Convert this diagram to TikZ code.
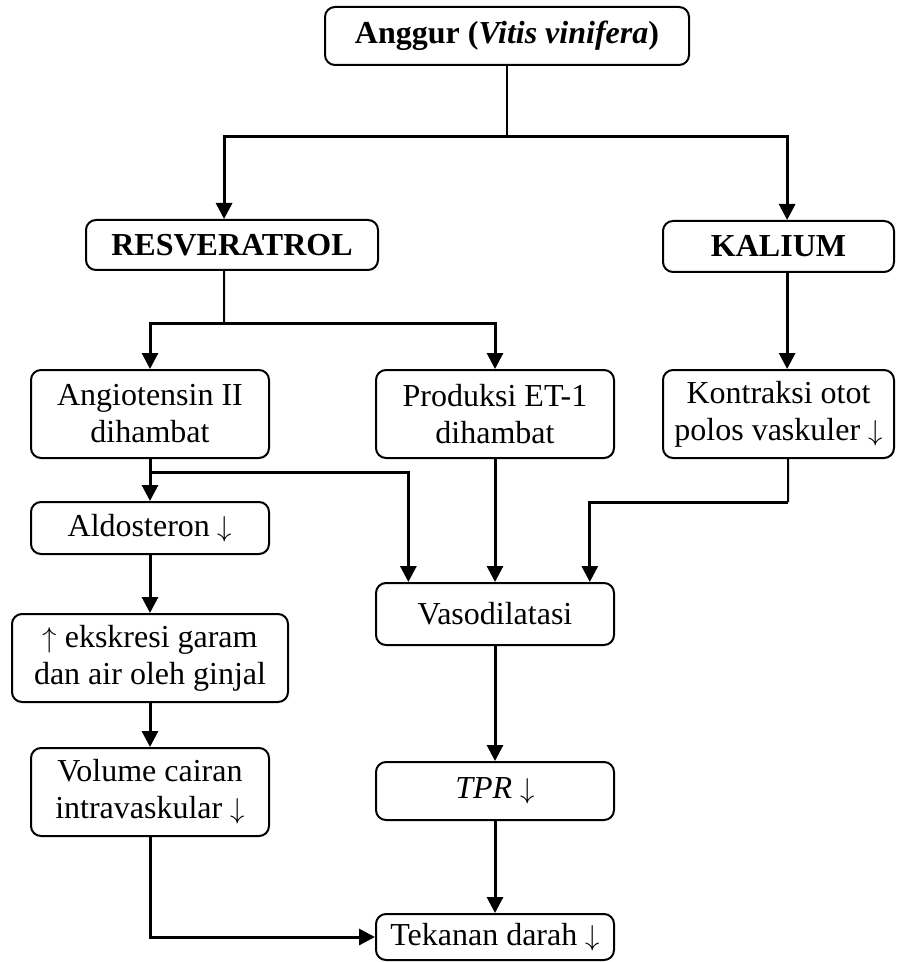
\documentclass[tikz,border=0pt]{standalone}
\usepackage{fontspec}
\setmainfont{Liberation Serif}
\usetikzlibrary{arrows.meta,calc}

\newcommand{\turun}{\ {\fontsize{14.5pt}{14.5pt}\selectfont$\downarrow$}}
\newcommand{\naik}{{\fontsize{14.5pt}{14.5pt}\selectfont$\uparrow$}\ }

\tikzset{
  flowbox/.style={draw,rounded corners=5pt,line width=1pt,align=center,inner sep=0pt,
                  font=\fontsize{16pt}{18.5pt}\selectfont},
  link/.style={line width=1pt},
  flow/.style={line width=1.5pt,-{Triangle[length=8pt,width=8pt]}}
}

\begin{document}
\begin{tikzpicture}[x=0.5pt,y=-0.5pt]
\useasboundingbox (0,0) rectangle (896,962);

% top row
\node[flowbox,minimum width=182pt,minimum height=29pt] (anggur) at (507,36) {\textbf{Anggur (\textit{Vitis vinifera})}};
\node[flowbox,minimum width=146pt,minimum height=25pt] (resv) at (232,245) {\textbf{RESVERATROL}};
\node[flowbox,minimum width=115.5pt,minimum height=25.5pt] (kalium) at (778.5,246.5) {\textbf{KALIUM}};

% second row
\node[flowbox,minimum width=119pt,minimum height=44pt] (angio) at (150,414) {Angiotensin II\\dihambat};
\node[flowbox,minimum width=119pt,minimum height=44pt] (et1) at (495,414) {Produksi ET-1\\dihambat};
\node[flowbox,minimum width=115.5pt,minimum height=44pt] (kontraksi) at (778.5,414) {Kontraksi otot\\polos vaskuler\turun};

% left column
\node[flowbox,minimum width=119pt,minimum height=26pt] (aldo) at (150,528) {Aldosteron\turun};
\node[flowbox,minimum width=138pt,minimum height=44pt] (ekskresi) at (150,658) {\naik ekskresi garam\\dan air oleh ginjal};
\node[flowbox,minimum width=119pt,minimum height=44pt] (volume) at (150,792) {Volume cairan\\intravaskular\turun};

% middle column
\node[flowbox,minimum width=119pt,minimum height=31pt] (vaso) at (495,614) {Vasodilatasi};
\node[flowbox,minimum width=119pt,minimum height=29pt] (tpr) at (495,791) {\textit{TPR}\turun};
\node[flowbox,minimum width=119pt,minimum height=23pt] (tekanan) at (495,937) {Tekanan darah\turun};

% junctions
\coordinate (j1) at (507,137);
\coordinate (j2) at (224,323);
\coordinate (j3) at (150,472);
\coordinate (j4) at (788,502);
\coordinate (resvN) at ($(resv.north west)!0.473!(resv.north east)$);
\coordinate (resvS) at ($(resv.south west)!0.473!(resv.south east)$);
\coordinate (kalN) at ($(kalium.north west)!0.537!(kalium.north east)$);
\coordinate (kalS) at ($(kalium.south west)!0.537!(kalium.south east)$);
\coordinate (konS) at ($(kontraksi.south west)!0.541!(kontraksi.south east)$);
\coordinate (vasoL) at ($(vaso.north west)!0.139!(vaso.north east)$);
\coordinate (vasoR) at ($(vaso.north west)!0.895!(vaso.north east)$);

\draw[link] (anggur.south) -- (j1);
\draw[flow] (j1) -| (resvN);
\draw[flow] (j1) -| (kalN);

\draw[link] (resvS) -- (j2);
\draw[flow] (j2) -| (angio.north);
\draw[flow] (j2) -| (et1.north);
\draw[flow] (kalS) -- (kontraksi.north -| kalS);

\draw[flow] (angio.south) -- (aldo.north);
\draw[flow] (j3) -| (vasoL);
\draw[flow] (et1.south) -- (vaso.north);
\draw[link] (konS) -- (j4);
\draw[flow] (j4) -| (vasoR);

\draw[flow] (aldo.south) -- (ekskresi.north);
\draw[flow] (ekskresi.south) -- (volume.north);
\draw[flow] (volume.south) |- (tekanan.west);

\draw[flow] (vaso.south) -- (tpr.north);
\draw[flow] (tpr.south) -- (tekanan.north);

\end{tikzpicture}
\end{document}
